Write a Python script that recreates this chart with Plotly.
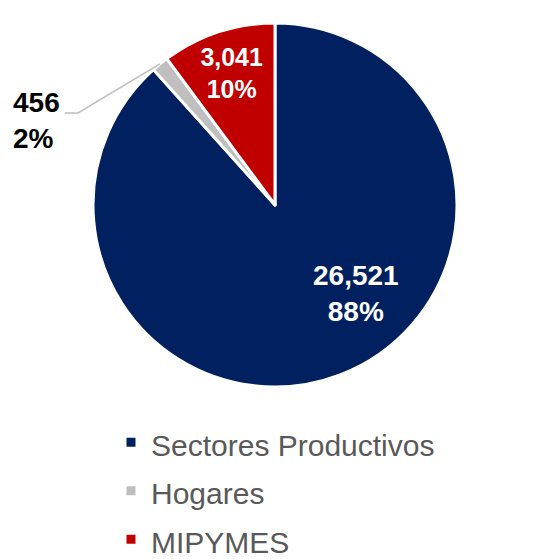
import math
import plotly.graph_objects as go

categorias = ['Sectores Productivos', 'Hogares', 'MIPYMES']
valores = [26521, 456, 3041]
colores = ['#002060', '#BFBFBF', '#C00000']

W, H = 555, 559
FUENTE = 'Arial, Liberation Sans'
# dominio del pastel (fraccion del papel)
dom_x = [0.1676, 0.8234]
dom_y = [0.3077, 0.9589]

total = sum(valores)
pcts = [round(v / total * 100) for v in valores]

# leyenda: el tamaño de fuente del grupo da el espaciado, el span da el tamaño visible
etiquetas = [f'<span style="font-size:30px">{c}</span>' for c in categorias]

fig = go.Figure()
fig.add_trace(go.Pie(
    labels=etiquetas,
    values=valores,
    sort=False,
    direction='clockwise',
    rotation=0,
    marker=dict(colors=colores, line=dict(color='white', width=3)),
    texttemplate='%{value:,}<br>%{percent:.0%}',
    textposition=['none', 'none', 'inside'],
    insidetextorientation='horizontal',
    textfont=dict(family=FUENTE, size=28, color='white', weight='bold'),
    domain=dict(x=dom_x, y=dom_y),
    hoverinfo='value+percent',
))

def to_paper(x, y):
    return x / W, 1 - y / H

# etiqueta de Sectores Productivos
ex, ey = to_paper(356, 293)
fig.add_annotation(x=ex, y=ey, xref='paper', yref='paper',
                   xanchor='center', yanchor='middle',
                   text=f'{valores[0]:,}<br>{pcts[0]}%', showarrow=False,
                   font=dict(family=FUENTE, size=28, color='white', weight='bold'))

# etiqueta externa de Hogares con linea guia hacia el centro del sector
ang = (valores[0] + valores[1] / 2) / total * 2 * math.pi
cx = (dom_x[0] + dom_x[1]) / 2 * W
cy = (1 - (dom_y[0] + dom_y[1]) / 2) * H
r = (dom_x[1] - dom_x[0]) * W / 2
px = cx + r * math.sin(ang)
py = cy - r * math.cos(ang)

p1 = to_paper(65, 113)
p2 = to_paper(78, 113)
p3 = to_paper(px, py)
fig.add_shape(type='path', xref='paper', yref='paper',
              path=f'M {p1[0]},{p1[1]} L {p2[0]},{p2[1]} L {p3[0]},{p3[1]}',
              line=dict(color='#BFBFBF', width=1.5))

hx, hy = to_paper(11, 121)
fig.add_annotation(x=hx, y=hy, xref='paper', yref='paper',
                   xanchor='left', yanchor='middle', align='left',
                   text=f'{valores[1]:,}<br>{pcts[1]}%', showarrow=False,
                   font=dict(family=FUENTE, size=28, color='black', weight='bold'))

fig.update_layout(
    width=W, height=H,
    margin=dict(l=0, r=0, t=0, b=0, autoexpand=False),
    paper_bgcolor='white',
    plot_bgcolor='white',
    showlegend=True,
    legend=dict(
        x=0.2, y=1 - 413 / H, xanchor='left', yanchor='top',
        orientation='v',
        font=dict(family=FUENTE, size=35, color='#595959'),
        bgcolor='rgba(0,0,0,0)',
    ),
)

fig.write_html('out.html', config={'displayModeBar': False},
               post_script="document.body.style.margin='0px';")
